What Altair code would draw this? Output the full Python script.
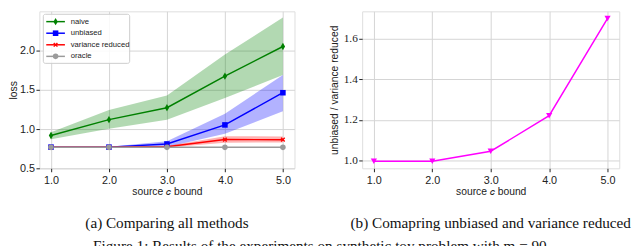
import altair as alt
import pandas as pd

# ---------------- data ----------------
xs = [1.0, 2.0, 3.0, 4.0, 5.0]
methods = ["naive", "unbiased", "variance reduced", "oracle"]
line_colors = ["#008000", "#0000ff", "#ff0000", "#9a9a9a"]
band_colors = ["#008000", "#0000ff", "#ff0000", "#9a9a9a"]

naive = [0.918, 1.12, 1.272, 1.674, 2.052]
naive_lo = [0.87, 1.005, 1.12, 1.395, 1.69]
naive_hi = [0.96, 1.244, 1.427, 1.95, 2.42]

unbiased = [0.77, 0.77, 0.81, 1.053, 1.463]
unbiased_lo = [0.764, 0.764, 0.772, 0.94, 1.228]
unbiased_hi = [0.776, 0.776, 0.846, 1.196, 1.69]

vr = [0.77, 0.77, 0.775, 0.866, 0.865]
vr_lo = [0.764, 0.764, 0.765, 0.826, 0.83]
vr_hi = [0.776, 0.776, 0.785, 0.91, 0.905]

oracle = [0.767, 0.767, 0.767, 0.767, 0.767]

ratio = [0.997, 0.997, 1.046, 1.221, 1.70]

y_ticks_a = [0.5, 1.0, 1.5, 2.0]
y_ticks_b = [1.0, 1.2, 1.4, 1.6]

caption_a = "(a) Comparing all methods"
caption_b = "(b) Comapring unbiased and variance reduced"
fig_caption = "Figure 1: Results of the experiments on synthetic toy problem with m = 90"

# ---------------- tables ----------------
series = {
    "naive": (naive, naive_lo, naive_hi),
    "unbiased": (unbiased, unbiased_lo, unbiased_hi),
    "variance reduced": (vr, vr_lo, vr_hi),
    "oracle": (oracle, oracle, oracle),
}
rows = []
for m, (v, lo, hi) in series.items():
    for x, a, b, c in zip(xs, v, lo, hi):
        rows.append({"method": m, "x": x, "y": a, "lo": b, "hi": c})
df = pd.DataFrame(rows)
df_ratio = pd.DataFrame({"x": xs, "ratio": ratio})

W_A, H = 260, 160
W_B = 262

SANS = "Liberation Sans"
SERIF = "Liberation Serif"
INK = "#222222"
GRID = "#d4d4d4"

xscale = alt.Scale(domain=[0.8, 5.2], nice=False, zero=False)
yscale_a = alt.Scale(domain=[0.5, 2.5], nice=False, zero=False)
yscale_b = alt.Scale(domain=[0.962, 1.735], nice=False, zero=False)


def xaxis(title):
    return alt.Axis(values=xs, format=".1f", title=title, grid=True,
                    gridColor=GRID, gridWidth=1, domain=False,
                    tickColor=INK, tickSize=3.5, labelPadding=2.5,
                    labelFont=SANS, labelFontSize=11, labelColor=INK,
                    titleFont=SANS, titleFontSize=10.5, titleFontWeight="normal",
                    titleColor=INK, titlePadding=2, labelFlush=False)


base = alt.Chart(df)
yaxis_a = alt.Axis(values=y_ticks_a, format=".1f", title="loss", grid=True,
                   gridColor=GRID, gridWidth=1, domain=False,
                   tickColor=INK, tickSize=3.5, labelPadding=1.5,
                   labelFont=SANS, labelFontSize=11, labelColor=INK,
                   titleFont=SANS, titleFontSize=10.5, titleFontWeight="normal",
                   titleColor=INK, titlePadding=1)

bands = base.transform_filter(alt.datum.method != "oracle").mark_area(opacity=0.3).encode(
    x=alt.X("x:Q", scale=xscale, axis=xaxis("source 𝑐 bound")),
    y=alt.Y("lo:Q", scale=yscale_a, axis=yaxis_a),
    y2="hi:Q",
    color=alt.Color("method:N", scale=alt.Scale(domain=methods, range=band_colors), legend=None),
)

lines = base.mark_line(strokeWidth=1.5).encode(
    x="x:Q", y="y:Q",
    color=alt.Color("method:N", scale=alt.Scale(domain=methods, range=line_colors), legend=None),
    detail="method:N",
)

DIAMOND = "M0,-1L0.6,0L0,1L-0.6,0Z"
XSHAPE = "M-1,-1L1,1M-1,1L1,-1"


def pts(m, color, shape, size, filled=True):
    return base.transform_filter(alt.datum.method == m).mark_point(
        shape=shape, size=size, filled=filled, color=color, opacity=1, strokeWidth=1.4
    ).encode(x="x:Q", y="y:Q")


p_naive = pts("naive", line_colors[0], DIAMOND, 55)
p_unb = pts("unbiased", line_colors[1], "square", 32)
p_vr = pts("variance reduced", line_colors[2], XSHAPE, 14, filled=False)
p_or = pts("oracle", line_colors[3], "circle", 32)

# ---------- legend (drawn inside the plot, top-left) ----------
leg_layers = []
box = alt.Chart(pd.DataFrame({"k": [0]})).mark_rect(
    fill="white", fillOpacity=0.85, stroke="#cccccc", strokeWidth=1, cornerRadius=2
).encode(x=alt.value(4), x2=alt.value(92), y=alt.value(3), y2=alt.value(53))
leg_layers.append(box)
shapes = [(DIAMOND, 55, True), ("square", 32, True), (XSHAPE, 14, False), ("circle", 32, True)]
for i, m in enumerate(methods):
    yy = 10.5 + i * 11.8
    d = alt.Chart(pd.DataFrame({"method": [m]}))
    leg_layers.append(d.mark_rule(color=line_colors[i], strokeWidth=1.5).encode(
        x=alt.value(7), x2=alt.value(26), y=alt.value(yy)))
    sh, sz, fl = shapes[i]
    leg_layers.append(d.mark_point(shape=sh, size=sz, filled=fl, color=line_colors[i],
                                   opacity=1, strokeWidth=1.4).encode(
        x=alt.value(16.5), y=alt.value(yy)))
    leg_layers.append(d.mark_text(align="left", baseline="middle", font=SANS, fontSize=7.8,
                                  color=INK).encode(
        x=alt.value(32), y=alt.value(yy), text="method:N"))

left = alt.layer(bands, lines, p_naive, p_unb, p_vr, p_or, *leg_layers).properties(
    width=W_A, height=H,
    title=alt.TitleParams(caption_a, orient="bottom", anchor="middle", font=SERIF,
                          fontSize=15.5, fontWeight="normal", color="#111", offset=19,
                          baseline="top"),
)

# ---------------- right panel ----------------
yaxis_b = alt.Axis(values=y_ticks_b, format=".1f", title="unbiased / variance reduced",
                   grid=True, gridColor=GRID, gridWidth=1, domain=False,
                   tickColor=INK, tickSize=3.5, labelPadding=1.5,
                   labelFont=SERIF, labelFontSize=11.5, labelColor=INK,
                   titleFont=SANS, titleFontSize=10.5, titleFontWeight="normal",
                   titleColor=INK, titlePadding=4)
rb = alt.Chart(df_ratio)
r_line = rb.mark_line(color="#ff00ff", strokeWidth=1.5).encode(
    x=alt.X("x:Q", scale=xscale, axis=xaxis("source 𝑐 bound")),
    y=alt.Y("ratio:Q", scale=yscale_b, axis=yaxis_b),
)
r_pts = rb.mark_point(shape="triangle-down", size=40, filled=True, color="#ff00ff",
                      opacity=1).encode(x="x:Q", y="ratio:Q")
right = alt.layer(r_line, r_pts).properties(
    width=W_B, height=H,
    title=alt.TitleParams(caption_b, orient="bottom", anchor="middle", font=SERIF,
                          fontSize=15.5, fontWeight="normal", color="#111", offset=19,
                          baseline="top"),
)

chart = alt.hconcat(left, right, spacing=34).properties(
    padding={"left": 0, "top": 0, "right": 0, "bottom": 0},
    title=alt.TitleParams(fig_caption, orient="bottom", anchor="middle", font=SERIF,
                          fontSize=15.5, fontWeight="normal", color="#111", offset=8,
                          baseline="top"),
).configure_view(stroke=INK, strokeWidth=1.2).configure(background="white")

chart.save("out.html", embed_options={"renderer": "svg", "actions": False})
